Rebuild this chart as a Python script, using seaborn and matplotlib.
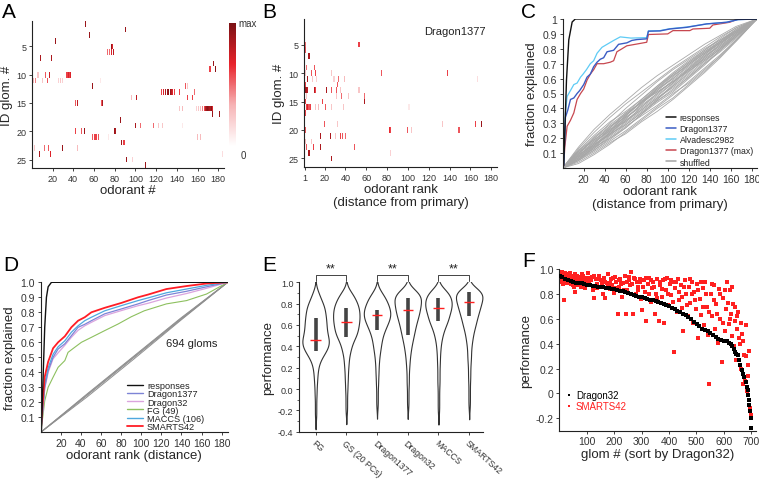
import numpy as np
import pandas as pd
import matplotlib
matplotlib.use("Agg")
import matplotlib.pyplot as plt
import seaborn as sns
from matplotlib.colors import LinearSegmentedColormap
from matplotlib.lines import Line2D
from matplotlib.ticker import AutoMinorLocator

sns.set_style("ticks")
plt.rcParams["font.family"] = ["Liberation Sans", "DejaVu Sans"]

# ---------------- data ----------------
n_odor = 185
n_glom = 26

# panel A: (glom, odorant #, normalized response)
A_cells = [
    (1, 52, .9), (2, 90, .9), (3, 56, .9), (4, 23, .9), (5, 77, .9), (5, 78, .7),
    (6, 73, .5), (6, 75, .5), (6, 77, .7), (6, 79, .8), (7, 8, .85), (7, 19, .85),
    (8, 175, .9), (9, 172, .6), (9, 177, .95),
    (10, 6, .25), (10, 13, .55), (10, 17, .75), (10, 34, .6), (10, 35, .7), (10, 36, .6), (10, 37, .7),
    (11, 2, .3), (11, 4, .45), (11, 10, .25), (11, 15, .55), (11, 26, .2), (11, 28, .25), (11, 30, .2), (11, 66, .1),
    (12, 59, .9), (12, 148, .55), (12, 150, .25),
    (13, 125, .6), (13, 127, .7), (13, 129, .85), (13, 131, .9), (13, 132, .95), (13, 134, .9),
    (13, 135, .8), (13, 136, .7), (13, 138, .6), (13, 143, .6), (13, 157, .5),
    (14, 96, .3), (14, 101, .8), (14, 150, .6), (14, 155, .6),
    (15, 42, .55), (15, 44, .8), (15, 67, .55), (15, 68, .85),
    (16, 143, .25), (16, 145, .3), (16, 159, .2), (16, 161, .25), (16, 163, .3), (16, 165, .45),
    (16, 167, .6), (16, 168, .8), (16, 169, .9), (16, 170, .95), (16, 171, .9), (16, 172, .85),
    (16, 173, .95), (16, 174, .7),
    (17, 174, .9), (17, 181, .9), (18, 86, .9),
    (19, 100, .85), (19, 105, .5), (19, 117, .5), (19, 122, .25), (19, 126, .25), (19, 145, .1),
    (20, 42, .6), (20, 48, .55), (20, 51, .9), (20, 80, .9), (20, 81, .85),
    (21, 59, .55), (21, 61, .6), (21, 62, .6), (21, 64, .55), (21, 74, .1), (21, 160, .3), (21, 163, .3),
    (22, 87, .9), (22, 89, .6),
    (23, 3, .25), (23, 12, .5), (23, 16, .55), (23, 30, .9), (23, 44, .3),
    (24, 7, .85), (24, 18, .7), (24, 184, .15), (25, 91, .9), (25, 97, .2), (26, 110, .9),
]

# panel B: response at rank 1 (primary) for each glom, then other (glom, rank, value)
B_primary = [.95, .9, .95, .9, .95, .9, .95, .9, .9, .95, .9, .95, .95,
             .9, .95, .9, .95, .9, .95, .9, .95, .9, .95, .95, .9, .95]
B_cells = [
    (5, 2, .5), (5, 53, .6), (6, 2, .55), (7, 5, .85), (9, 3, .5), (9, 10, .55),
    (10, 2, .25), (10, 7, .55), (10, 11, .6), (10, 27, .25), (10, 75, .55), (10, 138, .6),
    (11, 4, .85), (11, 8, .25), (11, 12, .2), (11, 29, .2), (11, 33, .5), (11, 39, .3), (11, 167, .15),
    (12, 2, .6), (12, 32, .55),
    (13, 2, .9), (13, 3, .85), (13, 4, .8), (13, 10, .8), (13, 11, .6), (13, 22, .85), (13, 27, .55),
    (13, 31, .55), (13, 35, .25), (13, 53, .25),
    (14, 3, .25), (14, 31, .25), (14, 36, .5), (14, 43, .25), (14, 58, .5),
    (15, 2, .6), (15, 18, .6), (15, 58, .85),
    (16, 3, .6), (16, 4, .7), (16, 5, .55), (16, 6, .6), (16, 11, .25), (16, 14, .3), (16, 21, .55),
    (16, 27, .25), (16, 38, .25), (16, 101, .1),
    (17, 2, .6),
    (19, 20, .55), (19, 32, .25), (19, 133, .25), (19, 165, .6), (19, 171, .9),
    (20, 2, .55), (20, 82, .65), (20, 83, .6), (20, 100, .55), (20, 103, .25), (20, 149, .55),
    (21, 16, .85), (21, 26, .85), (21, 30, .25), (21, 35, .6), (21, 37, .55), (21, 40, .5),
    (22, 2, .3), (22, 7, .25), (23, 3, .55), (23, 9, .6), (23, 16, .85), (23, 49, .55),
    (24, 5, .85), (24, 83, .2), (25, 27, .85),
]

# panel C: cumulative fraction explained vs odorant rank (one glomerulus)
C_resp_x = [0, 1, 3.6, 5.8, 9, 12, 185]
C_resp_y = [0, 0.02, 0.59, 0.86, 0.98, 1.0, 1.0]
C_d1377_x = [0, 1, 2.6, 4.9, 7.4, 10.6, 13.7, 16.2, 20, 23.2, 26.3, 29.5, 32.7, 35.8, 39, 42.2, 48.5,
             53.2, 61.1, 65.8, 70.6, 80, 81.6, 92.7, 102, 118, 137, 156, 167, 185]
C_d1377_y = [0, 0.02, 0.34, 0.39, 0.46, 0.47, 0.50, 0.52, 0.56, 0.61, 0.63, 0.68, 0.71, 0.73, 0.74, 0.78,
             0.79, 0.83, 0.84, 0.856, 0.862, 0.867, 0.918, 0.92, 0.933, 0.944, 0.967, 0.978, 0.996, 1.0]
C_alva_x = [0, 1, 2.6, 4.2, 7.4, 10.6, 13.7, 17, 19.4, 22.6, 26.3, 29.5, 32.7, 37.4, 42.2, 48.5, 54.8,
            65, 80, 81.6, 92.7, 102, 118, 137, 156, 167, 185]
C_alva_y = [0, 0.03, 0.37, 0.48, 0.52, 0.56, 0.57, 0.61, 0.63, 0.66, 0.70, 0.72, 0.77, 0.81, 0.83, 0.856,
            0.88, 0.872, 0.875, 0.92, 0.922, 0.935, 0.946, 0.967, 0.978, 0.996, 1.0]
C_dmax_x = [0, 1, 2, 4.2, 7.4, 10.6, 13.7, 17, 20, 23.2, 26.3, 29.5, 32.7, 39, 45.3, 48.5, 51.6, 56.4,
            61, 69, 80, 81.6, 100, 105, 121, 124, 140, 143, 159, 167, 185]
C_dmax_y = [0, 0.02, 0.14, 0.28, 0.32, 0.37, 0.46, 0.50, 0.53, 0.59, 0.63, 0.66, 0.70, 0.70, 0.71, 0.72,
            0.78, 0.80, 0.82, 0.83, 0.844, 0.896, 0.90, 0.922, 0.922, 0.933, 0.938, 0.96, 0.978, 1.0, 1.0]
C_shuf_x = [0, 15, 30, 45, 60, 75, 90, 105, 120, 135, 150, 165, 185]
C_shuf_y = [
    [0, .10, .19, .27, .36, .44, .53, .60, .69, .77, .85, .93, 1],
    [0, .06, .13, .21, .29, .37, .45, .52, .61, .70, .78, .87, 1],
    [0, .09, .20, .30, .40, .49, .58, .66, .73, .80, .86, .92, 1],
    [0, .05, .11, .18, .25, .33, .41, .49, .58, .67, .76, .86, 1],
    [0, .12, .22, .31, .38, .46, .55, .63, .71, .79, .87, .94, 1],
    [0, .07, .15, .24, .34, .42, .50, .59, .67, .75, .82, .90, 1],
    [0, .08, .17, .26, .31, .39, .47, .55, .63, .72, .80, .89, 1],
    [0, .04, .10, .17, .23, .31, .38, .46, .55, .64, .74, .85, 1],
    [0, .11, .18, .25, .33, .43, .52, .61, .70, .77, .84, .91, 1],
    [0, .09, .16, .22, .30, .38, .46, .55, .64, .74, .83, .91, 1],
    [0, .06, .14, .23, .33, .43, .53, .62, .70, .78, .85, .92, 1],
    [0, .10, .17, .25, .35, .45, .51, .58, .66, .73, .81, .89, 1],
    [0, .07, .16, .27, .37, .46, .55, .64, .72, .79, .86, .93, 1],
    [0, .08, .14, .20, .27, .36, .44, .51, .60, .69, .79, .88, 1],
    [0, .13, .24, .34, .43, .51, .59, .67, .74, .81, .88, .94, 1],
    [0, .05, .12, .20, .28, .35, .42, .50, .57, .66, .75, .85, 1],
    [0, .03, .09, .16, .24, .32, .40, .47, .56, .65, .75, .86, 1],
    [0, .14, .26, .36, .45, .54, .62, .69, .76, .83, .89, .95, 1],
    [0, .08, .18, .28, .36, .44, .52, .60, .68, .76, .84, .91, 1],
    [0, .06, .12, .19, .27, .36, .46, .56, .65, .73, .81, .90, 1],
    [0, .09, .15, .23, .32, .40, .48, .57, .66, .75, .83, .91, 1],
    [0, .11, .21, .29, .37, .44, .51, .58, .66, .74, .82, .90, 1],
    [0, .07, .13, .22, .31, .41, .50, .58, .65, .72, .80, .88, 1],
    [0, .10, .20, .28, .34, .41, .49, .57, .67, .76, .84, .92, 1],
    [0, .05, .14, .24, .32, .39, .47, .54, .62, .71, .80, .89, 1],
    [0, .12, .19, .26, .35, .44, .54, .63, .71, .78, .85, .92, 1],
    [0, .08, .16, .23, .29, .37, .45, .53, .61, .70, .79, .88, 1],
    [0, .06, .15, .25, .35, .45, .54, .62, .69, .77, .84, .91, 1],
]

# panel D: averaged over 694 glomeruli
D_resp_x = [0, 0.7, 2.4, 4, 5.7, 7.4, 10.7, 186]
D_resp_y = [0, 0, 0.37, 0.70, 0.90, 0.97, 1.0, 1.0]
D_x = [0, 2.4, 4, 7.4, 12.3, 17.3, 24, 30.5, 37.2, 43.8, 50.4, 63.7, 80, 96.8, 106.7, 125, 145, 165, 186]
D_smarts_y = [0, .23, .37, .47, .56, .60, .64, .70, .744, .767, .80, .83, .862, .90, .918, .955, .975, .992, 1]
D_maccs_y = [0, .19, .32, .43, .52, .57, .61, .667, .71, .744, .767, .81, .844, .878, .896, .93, .955, .98, 1]
D_d1377_y = [0, .17, .30, .41, .50, .555, .59, .644, .70, .72, .744, .79, .822, .856, .878, .915, .94, .97, 1]
D_d32_y = [0, .16, .29, .40, .49, .53, .58, .633, .68, .71, .733, .778, .811, .844, .86, .895, .925, .96, 1]
D_fg_x = [0, 2.4, 4, 7.4, 12.3, 17.3, 24, 27.2, 33.9, 40.5, 50.4, 63.7, 77, 90, 103, 125, 145, 165, 186]
D_fg_y = [0, .12, .21, .30, .367, .433, .478, .533, .567, .60, .633, .678, .722, .77, .81, .856, .878, .922, 1]
D_shuf_x = [0, 46, 93, 139, 186]
D_shuf_y = [
    [0, .245, .50, .75, 1],
    [0, .255, .51, .76, 1],
    [0, .235, .49, .745, 1],
    [0, .25, .505, .755, 1],
]

# panel E: performance distributions (counts on a 0.05 grid)
E_names = ["FG", "GS (20 PCs)", "Dragon1377", "Dragon32", "MACCS", "SMARTS42"]
E_levels = [-0.3, -0.25, -0.2, -0.15, -0.1, -0.05, 0.0, 0.05, 0.1, 0.15, 0.2, 0.25, 0.3,
            0.35, 0.4, 0.45, 0.5, 0.55, 0.6, 0.65, 0.7, 0.75, 0.8, 0.85, 0.9, 0.95]
E_counts = [
    [1, 2, 2, 2, 2, 3, 3, 4, 5, 6, 8, 12, 20, 30, 38, 40, 36, 33, 32, 31, 29, 27, 22, 15, 9, 3],
    [0, 1, 2, 2, 2, 2, 3, 3, 4, 4, 5, 6, 7, 10, 13, 18, 25, 29, 31, 33, 33, 32, 28, 22, 14, 4],
    [0, 0, 1, 2, 2, 2, 2, 3, 3, 4, 4, 5, 6, 8, 10, 12, 15, 20, 26, 32, 35, 33, 28, 22, 13, 4],
    [0, 0, 1, 2, 2, 2, 2, 3, 3, 3, 4, 5, 6, 8, 10, 13, 16, 19, 22, 26, 30, 33, 35, 37, 30, 12],
    [0, 1, 2, 2, 2, 2, 2, 3, 3, 3, 3, 4, 4, 5, 6, 8, 11, 15, 21, 27, 30, 35, 37, 35, 28, 12],
    [0, 0, 1, 2, 2, 2, 2, 2, 3, 3, 3, 4, 5, 5, 6, 8, 10, 13, 17, 20, 24, 28, 32, 36, 37, 18],
]
E_q1 = [0.36, 0.49, 0.55, 0.51, 0.64, 0.68]
E_q3 = [0.67, 0.76, 0.74, 0.85, 0.85, 0.91]
E_med = [0.46, 0.625, 0.69, 0.74, 0.76, 0.82]
E_pairs = [(0, 1), (2, 3), (4, 5)]
E_sig = ["**", "**", "**"]

# panel F: per-glomerulus performance sorted by Dragon32
F_d32_glom = [1, 11, 21, 31, 41, 51, 61, 71, 81, 91, 101, 111, 121, 131, 141, 151, 161, 171, 181, 191,
              201, 211, 221, 231, 241, 251, 261, 271, 281, 291, 301, 311, 321, 331, 341, 351, 361, 371,
              381, 391, 401, 411, 421, 431, 441, 451, 461, 471, 481, 491, 501, 511, 521, 531, 541, 551,
              561, 571, 581, 591, 601, 611, 621, 626, 631, 636, 641, 646, 651, 656, 661, 666, 671, 676,
              681, 684, 687, 690, 692, 694, 696, 698, 700]
F_d32_perf = [.945, .935, .925, .915, .905, .898, .893, .89, .886, .882, .876, .872, .868, .864, .86, .857,
              .855, .851, .847, .842, .838, .833, .829, .823, .816, .81, .803, .795, .787, .78, .774, .768,
              .762, .755, .749, .742, .735, .727, .719, .71, .701, .69, .68, .668, .656, .642, .628, .612,
              .596, .578, .56, .54, .52, .51, .5, .488, .47, .455, .44, .43, .425, .42, .41, .40, .385,
              .36, .33, .32, .31, .27, .23, .19, .16, .13, .09, .05, .03, -.01, -.05, -.09, -.14, -.2, -.28]
F_smarts = [
    (3, .96), (6, .93), (9, .98), (12, .91), (15, .94), (18, .75), (21, .97), (24, .92), (27, .89),
    (30, .95), (33, .9), (36, .93), (40, .97), (43, .88), (46, .91), (50, .94), (53, .86), (56, .82),
    (59, .92), (62, .89), (66, .95), (70, .9), (74, .87), (78, .93), (82, .96), (86, .88), (90, .91),
    (94, .85), (98, .93), (103, .97), (108, .9), (113, .87), (118, .94), (123, .83), (128, .77),
    (133, .92), (138, .88), (143, .95), (148, .86), (153, .91), (158, .8), (163, .93), (168, .77),
    (173, .89), (178, .96), (183, .84), (188, .92), (193, .87), (198, .81), (203, .94), (208, .9),
    (213, .64), (218, .86), (223, .92), (228, .78), (233, .89), (238, .95), (243, .64), (248, .83),
    (253, .91), (258, .87), (263, .98), (268, .64), (273, .93), (278, .8), (283, .9), (288, .86),
    (293, .92), (298, .76), (303, .67), (308, .91), (313, .82), (318, .58), (323, .88), (328, .93),
    (333, .74), (338, .85), (343, .9), (348, .64), (353, .8), (358, .92), (363, .58), (368, .87),
    (373, .78), (378, .91), (383, .57), (388, .83), (393, .93), (398, .71), (403, .88), (408, .79),
    (413, .9), (418, .33), (423, .85), (428, .66), (433, .92), (438, .75), (443, .87), (448, .69),
    (453, .5), (458, .91), (463, .8), (468, .62), (473, .86), (478, .73), (483, .9), (488, .57),
    (493, .82), (498, .68), (503, .88), (508, .45), (513, .76), (518, .63), (523, .85), (528, .55),
    (533, .9), (538, .7), (543, .47), (548, .08), (553, .8), (558, .62), (563, .87), (568, .52),
    (573, .72), (578, .41), (583, .84), (588, .6), (593, .25), (598, .77), (603, .5), (608, .68),
    (613, .9), (618, .56), (622, .83), (626, .64), (630, .46), (634, .72), (638, .38), (642, .58),
    (646, .27), (650, .52), (654, .66), (658, .4), (662, .2), (666, .48), (670, .08), (674, .31),
    (678, .1), (682, .55), (686, .02), (689, .23), (692, -.05), (694, .34), (696, -.12), (698, -.17),
    (5, .9), (8, .95), (14, .88), (17, .97), (23, .9), (26, .94), (32, .92), (35, .96), (38, .89),
    (45, .95), (48, .87), (52, .92), (58, .96), (64, .91), (68, .87), (72, .94), (76, .9), (80, .86),
    (84, .92), (88, .95), (92, .89), (96, .91), (100, .88), (106, .93), (116, .91), (126, .95),
    (136, .85), (146, .92), (156, .88), (166, .9), (176, .86), (186, .89), (196, .93), (206, .85),
    (216, .91), (226, .88), (236, .83), (246, .9), (256, .94), (266, .88), (276, .92), (286, .83),
    (296, .9), (306, .86), (316, .93), (326, .8), (336, .91), (346, .86), (356, .77), (366, .9),
    (376, .84), (386, .92), (396, .8), (406, .91), (416, .74), (426, .9), (436, .82), (446, .78),
    (456, .86), (466, .71), (476, .92), (486, .8), (496, .75), (506, .83), (516, .9), (526, .7),
    (536, .8), (546, .66), (556, .88), (566, .75), (576, .64), (586, .8), (596, .57), (606, .83),
    (616, .73), (624, .6), (632, .86), (640, .7), (648, .62), (656, .45), (664, .57), (672, .42),
    (680, .3), (688, .14),
]

# ---------------- figure ----------------
W, H = 759, 481
fig = plt.figure(figsize=(W / 100, H / 100), dpi=100)


def box(l, t, r, b):
    return [l / W, 1 - b / H, (r - l) / W, (b - t) / H]


LAB = 9.5
INK = "#222222"


def style(ax, size):
    for s in ["top", "right"]:
        ax.spines[s].set_visible(False)
    for s in ["left", "bottom"]:
        ax.spines[s].set_visible(True)
        ax.spines[s].set_linewidth(0.8)
        ax.spines[s].set_color(INK)
    ax.tick_params(labelsize=size, length=2.5, width=0.6, color=INK, labelcolor="#333333", pad=1.5)


cmap = LinearSegmentedColormap.from_list("resp", ["#ffffff", "#f6b3b5", "#e8232b", "#7a1114"])

# A
axA = fig.add_axes(box(32.3, 22, 224, 169))
caxA = fig.add_axes(box(229, 24, 236, 147))
mat_A = np.zeros((n_glom, n_odor))
for g, o, v in A_cells:
    mat_A[g - 1, o - 1] = v
sns.heatmap(mat_A, ax=axA, cmap=cmap, vmin=0, vmax=1, cbar_ax=caxA,
            xticklabels=False, yticklabels=False)
cb = axA.collections[0].colorbar
cb.set_ticks([])
cb.outline.set_visible(False)
caxA.text(1.3, 1.0, "max", transform=caxA.transAxes, fontsize=7, color="#333", va="center")
caxA.text(1.6, -0.03, "0", transform=caxA.transAxes, fontsize=7, color="#333", va="top")
style(axA, 6.5)
axA.set_xticks(np.arange(20, 181, 20) - 0.5)
axA.set_xticklabels([str(v) for v in range(20, 181, 20)])
axA.set_yticks(np.array([5, 10, 15, 20, 25]) - 0.5)
axA.set_yticklabels(["5", "10", "15", "20", "25"], rotation=0)
axA.set_xlabel("odorant #", fontsize=LAB, labelpad=1)
axA.set_ylabel("ID glom. #", fontsize=LAB, labelpad=3)

# B
axB = fig.add_axes(box(304.3, 20, 497, 168))
mat_B = np.zeros((n_glom, n_odor))
mat_B[:, 0] = B_primary
for g, r, v in B_cells:
    mat_B[g - 1, r - 1] = v
sns.heatmap(mat_B, ax=axB, cmap=cmap, vmin=0, vmax=1, cbar=False,
            xticklabels=False, yticklabels=False)
style(axB, 6.5)
axB.set_xticks(np.array([1] + list(range(20, 181, 20))) - 0.5)
axB.set_xticklabels(["1"] + [str(v) for v in range(20, 181, 20)])
axB.set_yticks(np.array([5, 10, 15, 20, 25]) - 0.5)
axB.set_yticklabels(["5", "10", "15", "20", "25"], rotation=0)
axB.set_xlabel("odorant rank\n(distance from primary)", fontsize=LAB, labelpad=1, linespacing=1.15)
axB.set_ylabel("ID glom. #", fontsize=LAB, labelpad=3)
axB.text(0.78, 0.92, "Dragon1377", transform=axB.transAxes, fontsize=8, ha="center", va="center", color=INK)

# C
axC = fig.add_axes(box(562.7, 20, 757, 169))
shuf_C = pd.DataFrame([(i, x, y) for i, ys in enumerate(C_shuf_y) for x, y in zip(C_shuf_x, ys)],
                      columns=["perm", "rank", "frac"])
sns.lineplot(data=shuf_C, x="rank", y="frac", units="perm", estimator=None, color="#a8a8a8",
             lw=0.6, ax=axC)
c_cols = {"responses": "#111111", "Dragon1377": "#3b5cc4", "Alvadesc2982": "#5ecbf5",
          "Dragon1377 (max)": "#c7474f", "shuffled": "#a3a3a3"}
sns.lineplot(x=C_dmax_x, y=C_dmax_y, color=c_cols["Dragon1377 (max)"], lw=0.9, ax=axC, estimator=None)
sns.lineplot(x=C_alva_x, y=C_alva_y, color=c_cols["Alvadesc2982"], lw=0.9, ax=axC, estimator=None)
sns.lineplot(x=C_d1377_x, y=C_d1377_y, color=c_cols["Dragon1377"], lw=1.0, ax=axC, estimator=None)
sns.lineplot(x=C_resp_x, y=C_resp_y, color=c_cols["responses"], lw=1.0, ax=axC, estimator=None)
axC.set_xlim(0, 185)
axC.set_ylim(0, 1.0)
style(axC, 7.5)
axC.set_xticks(range(20, 181, 20))
axC.set_yticks([0.1, 0.2, 0.3, 0.4, 0.5, 0.6, 0.7, 0.8, 0.9, 1.0])
axC.set_yticklabels(["0.1", "0.2", "0.3", "0.4", "0.5", "0.6", "0.7", "0.8", "0.9", "1"])
axC.set_xlabel("odorant rank\n(distance from primary)", fontsize=LAB, labelpad=1, linespacing=1.15)
axC.set_ylabel("fraction explained", fontsize=LAB, labelpad=3)
hC = [Line2D([], [], color=c, lw=1.1) for c in c_cols.values()]
axC.legend(hC, list(c_cols.keys()), loc="lower left", bbox_to_anchor=(0.53, 0.01), frameon=False,
           fontsize=6.3, handlelength=1.2, handletextpad=0.4, labelspacing=0.25, borderpad=0,
           borderaxespad=0, labelcolor=INK)

# D
axD = fig.add_axes(box(40.7, 283.3, 227.7, 433.3))
shuf_D = pd.DataFrame([(i, x, y) for i, ys in enumerate(D_shuf_y) for x, y in zip(D_shuf_x, ys)],
                      columns=["perm", "rank", "frac"])
sns.lineplot(data=shuf_D, x="rank", y="frac", units="perm", estimator=None, color="#8f8f8f",
             lw=0.7, ax=axD)
d_cols = {"responses": "#111111", "Dragon1377": "#7d84d6", "Dragon32": "#dba4de",
          "FG (49)": "#8dc05f", "MACCS (106)": "#4ea8de", "SMARTS42": "#ff1d25"}
sns.lineplot(x=D_fg_x, y=D_fg_y, color=d_cols["FG (49)"], lw=0.8, ax=axD, estimator=None)
sns.lineplot(x=D_x, y=D_d32_y, color=d_cols["Dragon32"], lw=0.9, ax=axD, estimator=None)
sns.lineplot(x=D_x, y=D_d1377_y, color=d_cols["Dragon1377"], lw=0.9, ax=axD, estimator=None)
sns.lineplot(x=D_x, y=D_maccs_y, color=d_cols["MACCS (106)"], lw=0.9, ax=axD, estimator=None)
sns.lineplot(x=D_x, y=D_smarts_y, color=d_cols["SMARTS42"], lw=1.3, ax=axD, estimator=None)
sns.lineplot(x=D_resp_x, y=D_resp_y, color=d_cols["responses"], lw=1.0, ax=axD, estimator=None)
axD.set_xlim(0, 186)
axD.set_ylim(0, 1.0)
style(axD, 7.5)
axD.set_xticks(range(20, 181, 20))
axD.set_yticks([0.1, 0.2, 0.3, 0.4, 0.5, 0.6, 0.7, 0.8, 0.9, 1.0])
axD.set_yticklabels(["0.1", "0.2", "0.3", "0.4", "0.5", "0.6", "0.7", "0.8", "0.9", "1.0"])
axD.set_xlabel("odorant rank (distance)", fontsize=LAB, labelpad=1)
axD.set_ylabel("fraction explained", fontsize=LAB, labelpad=3)
axD.text(125, 0.595, "694 gloms", fontsize=8, va="center", color=INK)
hD = [Line2D([], [], color=c, lw=1.3 if k == "SMARTS42" else 1.0) for k, c in d_cols.items()]
axD.legend(hD, list(d_cols.keys()), loc="lower left", bbox_to_anchor=(0.46, 0.01), frameon=False,
           fontsize=6.6, handlelength=1.8, handletextpad=0.4, labelspacing=-0.1, borderpad=0,
           borderaxespad=0, labelcolor=INK)

# E
axE = fig.add_axes(box(299, 283.3, 483, 432.7))
E_df = pd.concat([pd.DataFrame({"feature": name, "perf": np.repeat(E_levels, cnt)})
                  for name, cnt in zip(E_names, E_counts)], ignore_index=True)
sns.violinplot(data=E_df, x="feature", y="perf", order=E_names, inner=None, color="white",
               linecolor="#333333", linewidth=0.8, cut=2, bw_method=0.17, density_norm="width",
               width=0.86, ax=axE)
pos = np.arange(len(E_names))
axE.vlines(pos, E_q1, E_q3, color="#444444", lw=2.6, zorder=3)
axE.hlines(E_med, pos - 0.17, pos + 0.17, color="#ff2020", lw=1.0, zorder=4)
for (a, b), s in zip(E_pairs, E_sig):
    axE.plot([a, a, b, b], [1.015, 1.07, 1.07, 1.015], color="#444444", lw=0.7, clip_on=False)
    axE.text((a + b) / 2, 1.07, s, ha="center", va="bottom", fontsize=9, color=INK)
axE.set_xlim(-0.54, 5.45)
axE.set_ylim(-0.4, 1.0)
style(axE, 6.5)
axE.set_yticks(np.round(np.arange(-0.4, 1.01, 0.2), 1))
axE.set_yticklabels(["%.1f" % v for v in np.arange(-0.4, 1.01, 0.2)])
axE.yaxis.set_minor_locator(AutoMinorLocator(2))
axE.tick_params(axis="y", which="minor", length=1.5, width=0.5, color=INK)
axE.set_xticks(pos)
axE.set_xticklabels(E_names, rotation=-42, ha="left", va="top", rotation_mode="anchor", fontsize=6.3)
axE.tick_params(axis="x", pad=2)
axE.set_xlabel("")
axE.set_ylabel("performance", fontsize=LAB, labelpad=3)

# F
axF = fig.add_axes(box(559.4, 270.3, 756, 431.7))
sm_x = [p[0] for p in F_smarts]
sm_y = [p[1] for p in F_smarts]
sns.scatterplot(x=sm_x, y=sm_y, color="#ff2020", s=7, marker="s", linewidth=0, ax=axF,
                label="SMARTS42", zorder=2)
sns.scatterplot(x=F_d32_glom, y=F_d32_perf, color="black", s=6, marker="s", linewidth=0, ax=axF,
                label="Dragon32", zorder=3)
axF.set_xlim(0, 718)
axF.set_ylim(-0.3, 1.0)
style(axF, 7.5)
axF.set_xticks(range(100, 701, 100))
axF.set_yticks([-0.2, 0, 0.2, 0.4, 0.6, 0.8, 1.0])
axF.set_yticklabels(["-0.2", "0", "0.2", "0.4", "0.6", "0.8", "1.0"])
axF.set_xlabel("glom # (sort by Dragon32)", fontsize=LAB, labelpad=1)
axF.set_ylabel("performance", fontsize=LAB, labelpad=3)
hF, lF = axF.get_legend_handles_labels()
axF.legend(hF[::-1], lF[::-1], loc="center left", bbox_to_anchor=(0.03, 0.19), frameon=False,
           fontsize=7, handlelength=0.8, handletextpad=0.3, labelspacing=0.1, borderpad=0,
           borderaxespad=0, labelcolor=["black", "#ff2020"], markerscale=0.8)

# panel letters
for letter, x, y in [("A", 2, 3), ("B", 262, 3), ("C", 521, 3), ("D", 3, 256), ("E", 262, 256), ("F", 522, 252)]:
    fig.text(x / W, 1 - y / H, letter, fontsize=15, va="top", ha="left", color="black")

fig.savefig("out.png", dpi=100)
